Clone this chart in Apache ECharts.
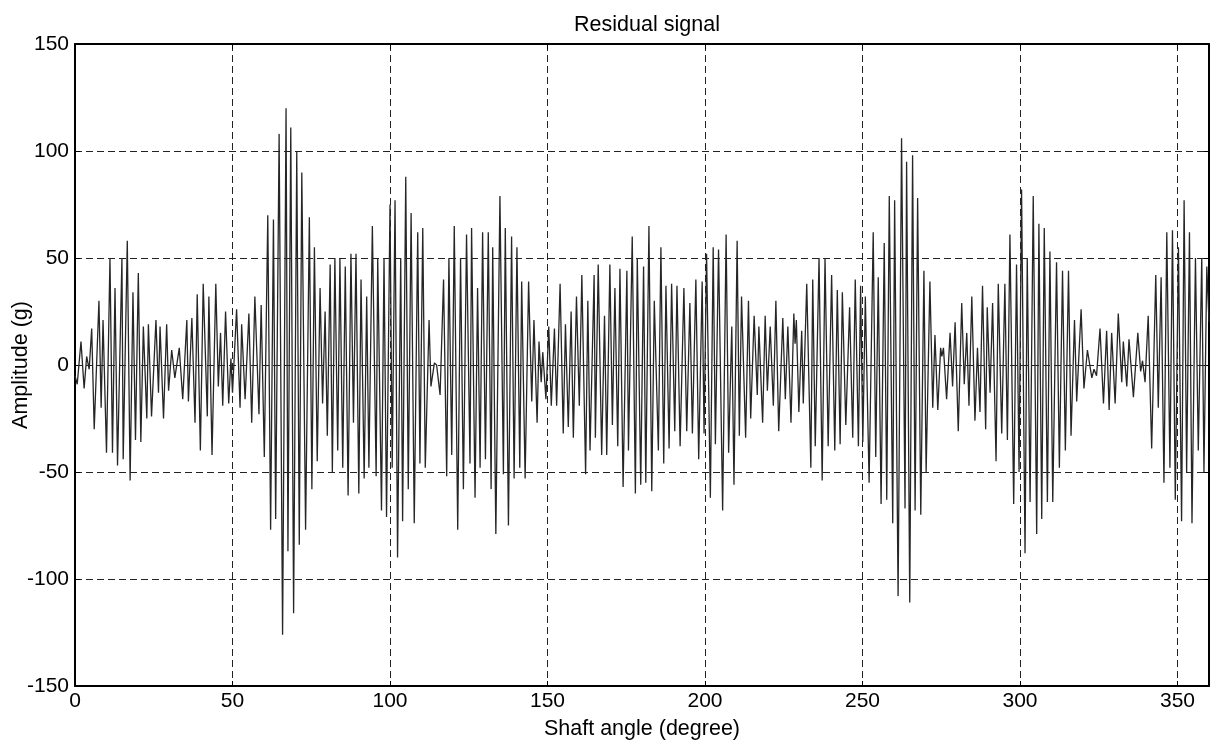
<!DOCTYPE html>
<html>
<head>
<meta charset="utf-8">
<title>Residual signal</title>
<script src="https://cdn.jsdelivr.net/npm/echarts@6/dist/echarts.min.js"></script>
<style>
  html, body { margin: 0; padding: 0; background: #fff; }
  #chart { width: 1219px; height: 742px; }
</style>
</head>
<body>
<div id="chart"></div>
<script>
// Shaft angle (degree) of each turning point of the residual signal
const angle = [
  0.0, 0.7, 1.9, 2.9, 3.7, 4.5, 5.3, 6.1, 7.6, 8.3,
  8.9, 10.0, 11.1, 11.9, 12.7, 13.5, 14.9, 15.3, 16.6, 17.5,
  18.4, 19.2, 20.1, 20.9, 21.7, 22.8, 23.3, 24.3, 25.7, 26.5,
  27.0, 28.1, 29.1, 29.7, 30.7, 31.7, 33.1, 34.2, 35.5, 36.0,
  37.1, 38.1, 38.8, 39.8, 40.7, 42.0, 42.5, 43.5, 44.7, 45.5,
  46.2, 46.9, 47.8, 48.8, 49.5, 50.0, 51.3, 52.4, 52.9, 54.0,
  55.2, 56.1, 57.1, 58.4,
  59.1, 60.1, 61.2, 62.1, 63.0, 63.7, 64.8, 65.9, 67.0, 67.6,
  68.5, 69.4, 70.4, 71.2, 72.0, 73.2, 74.4, 75.2, 76.0, 76.9,
  77.8, 78.6, 79.4, 80.1, 81.0, 81.7, 82.5, 83.4, 84.1, 85.0,
  85.8, 86.7, 87.6, 88.4, 89.2, 90.1, 90.8, 91.8, 92.6, 93.3,
  94.4, 95.6, 96.1, 97.3, 98.1, 98.9, 100.0, 100.7, 101.6, 102.4,
  103.4, 104.0, 105.0, 105.8, 106.7, 107.7, 108.8, 109.5, 110.4, 111.2,
  112.4, 113.0, 114.1, 114.8, 115.9, 117.0, 118.0, 118.7,
  119.6, 120.4, 121.5, 122.4, 123.3, 124.3, 125.4, 125.9, 127.0, 127.8,
  128.6, 129.4, 130.3, 131.2, 132.1, 132.6, 133.6, 134.9, 136.0, 136.6,
  137.6, 138.6, 139.4, 140.3, 141.2, 141.8, 142.9, 144.0, 145.0, 145.7,
  146.7, 147.3, 148.0, 148.5, 149.5, 150.4, 151.2, 152.2, 152.9, 154.0,
  155.0, 155.7, 156.6, 157.5, 158.2, 159.2, 160.1, 160.9, 162.1, 162.8,
  163.5, 164.8, 165.2, 166.1, 167.2, 168.1, 168.8, 169.8, 170.6, 171.4,
  172.3, 173.0, 174.0, 175.2, 175.7, 176.9, 177.9, 178.5,
  179.6, 180.5, 181.2, 182.2, 183.1, 183.9, 185.2, 186.0, 186.9, 187.6,
  188.6, 189.4, 190.4, 191.1, 192.1, 193.3, 194.2, 195.2, 196.0, 197.1,
  198.0, 199.1, 199.7, 200.5, 201.7, 202.6, 203.3, 204.3, 205.6, 206.7,
  207.5, 208.5, 209.2, 210.2, 210.9, 211.6, 212.9, 213.8, 214.5, 215.6,
  216.6, 217.1, 218.3, 219.1, 219.8, 220.7, 221.7, 222.5, 223.4, 224.7,
  225.5, 226.3, 227.3, 228.2, 228.6, 229.0, 229.8, 230.7, 231.2, 232.3,
  233.6, 234.2, 235.0, 236.2, 237.2, 238.1, 239.1,
  240.2, 241.2, 242.0, 242.9, 243.6, 244.7, 245.9, 246.9, 247.7, 248.7,
  249.4, 250.1, 250.9, 252.1, 253.4, 254.2, 255.0, 255.9, 256.9, 257.7,
  258.5, 259.6, 260.2, 261.3, 262.4, 263.5, 264.0, 265.0, 265.9, 266.7,
  267.5, 268.5, 269.5, 270.2, 271.4, 272.3, 273.0, 273.9, 274.8, 275.2,
  275.7, 276.7, 277.8, 278.6, 279.4, 280.4, 281.5, 282.3, 283.1, 283.8,
  284.7, 285.7, 286.5, 287.3, 288.1, 289.1, 289.6, 290.5, 291.3, 292.4,
  293.1, 294.2, 295.2, 296.0, 296.8, 298.0, 298.9, 299.7,
  300.5, 301.6, 302.3, 303.2, 304.2, 305.3, 306.0, 306.9, 307.7, 308.7,
  309.5, 310.4, 311.6, 312.5, 313.5, 314.4, 315.4, 316.2, 317.3, 318.0,
  319.4, 320.3, 321.4, 322.8, 323.5, 324.3, 325.4, 326.5, 327.5, 328.3,
  329.1, 330.2, 331.2, 332.3, 332.8, 333.9, 334.6, 336.0, 337.4, 338.3,
  338.9, 339.7, 340.7, 341.8, 343.1, 343.9, 344.8, 345.7, 346.6, 347.6,
  348.4, 349.3, 350.3, 351.3, 352.1, 352.9, 353.8, 354.6, 355.7, 356.6,
  357.7, 358.4, 359.3, 360.0
];

// Amplitude (g) at each of those angles
const amplitude = [
  -5, -9, 11, -11, 4, -2, 17, -30, 30, -20,
  21, -41, 50, -41, 36, -47, 50, -44, 58, -54,
  34, -35, 43, -36, 18, -25, 19, -24, 21, -13,
  18, -25, 19, -12, 7, -6, 8, -16, 21, -17,
  22, -27, 33, -40, 38, -24, 32, -42, 38, -10,
  15, -19, 25, -18, 3, -13, 26, -20, 19, -16,
  24, -27, 32, -23,
  28, -43, 70, -77, 68, -72, 108, -126, 120, -87,
  111, -116, 100, -84, 90, -77, 69, -58, 55, -45,
  36, -18, 25, -33, 47, -50, 50, -40, 50, -48,
  46, -61, 52, -27, 52, -60, 40, -53, 32, -48,
  65, -52, 50, -68, 50, -71, 75, -48, 77, -90,
  50, -73, 88, -58, 71, -74, 62, -46, 64, -48,
  21, -10, 1, 0, -14, 40, -52, 50,
  -42, 65, -77, 50, -58, 61, -46, 64, -62, 36,
  -48, 62, -44, 62, -58, 55, -79, 79, -51, 64,
  -75, 60, -53, 55, -48, 39, -53, 39, -17, 21,
  -27, 11, -8, 6, -16, 18, -19, 17, -19, 38,
  -32, 19, -29, 25, -34, 32, -19, 42, -51, 30,
  -40, 42, -34, 47, -42, 23, -42, 47, -28, 36,
  -38, 45, -57, 44, -40, 60, -60, 50,
  -56, 46, -55, 65, -59, 30, -40, 55, -46, 37,
  -39, 38, -31, 37, -38, 36, -31, 29, -32, 40,
  -44, 39, -32, 52, -62, 55, -37, 54, -68, 61,
  -41, 18, -56, 58, -33, 32, -34, 30, -25, 23,
  -14, 18, -27, 23, -12, 18, -19, 30, -31, 22,
  -16, 18, -27, 24, 10, 21, -22, 16, -18, 38,
  -48, 40, -38, 50, -54, 50, -38,
  42, -40, 35, -37, 34, -28, 27, -34, 40, -38,
  37, -36, 32, -55, 62, -43, 41, -65, 57, -63,
  79, -74, 77, -108, 106, -67, 95, -111, 98, -68,
  78, -70, 44, -50, 39, -20, 14, -21, 8, 4,
  8, -16, 15, -10, 20, -31, 29, -9, 15, -19,
  32, -26, 8, -22, 37, -30, 27, -13, 29, -45,
  38, -32, 38, -35, 61, -65, 47, -50,
  82, -88, 50, -64, 79, -79, 66, -72, 64, -64,
  53, -64, 48, -48, 44, -40, 44, -33, 21, -17,
  26, -11, 7, -6, -2, -5, 17, -18, 16, -21,
  15, -18, 24, -8, 11, -10, 12, -15, 15, -3,
  2, -8, 23, -39, 42, -20, 41, -55, 62, -48,
  63, -63, 55, -73, 77, -50, 62, -74, 50, -40,
  50, -50, 46, 20
];

// Axis ranges and tick spacing
const xRange = [0, 360];
const xStep = 50;
const yRange = [-150, 150];
const yStep = 50;

const points = angle.map((a, i) => [a, amplitude[i]]);

const font = '"Liberation Sans", Arial, Helvetica, sans-serif';
const gridDash = { color: '#222', width: 1, type: [7, 4] };
const frame = { show: true, onZero: false, lineStyle: { color: '#000', width: 2 } };
const innerTick = { show: true, inside: true, length: 5, lineStyle: { color: '#000', width: 1 } };

const chart = echarts.init(document.getElementById('chart'), null, { renderer: 'canvas' });
chart.setOption({
  animation: false,
  backgroundColor: '#fff',
  title: {
    text: 'Residual signal',
    left: 642,
    top: 9,
    textAlign: 'center',
    textStyle: { fontFamily: font, fontSize: 21.5, fontWeight: 'normal', color: '#000' }
  },
  grid: { left: 75, right: 10, top: 44, bottom: 56, containLabel: false, outerBoundsMode: 'none' },
  xAxis: [
    {
      type: 'value',
      position: 'bottom',
      min: xRange[0], max: xRange[1], interval: xStep,
      name: 'Shaft angle (degree)',
      nameLocation: 'middle',
      nameGap: 32,
      nameMoveOverlap: false,
      nameTextStyle: { fontFamily: font, fontSize: 21.5, color: '#000' },
      axisLine: frame,
      axisTick: innerTick,
      axisLabel: { fontFamily: font, fontSize: 21, color: '#000', margin: 5, showMaxLabel: false },
      splitLine: { show: true, lineStyle: gridDash }
    },
    {
      type: 'value',
      position: 'top',
      min: xRange[0], max: xRange[1], interval: xStep,
      axisLine: frame,
      axisTick: innerTick,
      axisLabel: { show: false },
      splitLine: { show: false }
    }
  ],
  yAxis: [
    {
      type: 'value',
      position: 'left',
      min: yRange[0], max: yRange[1], interval: yStep,
      name: 'Amplitude (g)',
      nameLocation: 'middle',
      nameGap: 43,
      nameMoveOverlap: false,
      nameTextStyle: { fontFamily: font, fontSize: 21.5, color: '#000' },
      axisLine: frame,
      axisTick: innerTick,
      axisLabel: { fontFamily: font, fontSize: 21, color: '#000', margin: 6 },
      splitLine: { show: true, lineStyle: gridDash }
    },
    {
      type: 'value',
      position: 'right',
      min: yRange[0], max: yRange[1], interval: yStep,
      axisLine: frame,
      axisTick: innerTick,
      axisLabel: { show: false },
      splitLine: { show: false }
    }
  ],
  series: [
    {
      type: 'line',
      xAxisIndex: 0,
      yAxisIndex: 0,
      data: points,
      showSymbol: false,
      symbol: 'none',
      smooth: false,
      lineStyle: { color: '#262626', width: 1.3 },
      z: 3
    }
  ]
});
</script>
</body>
</html>
